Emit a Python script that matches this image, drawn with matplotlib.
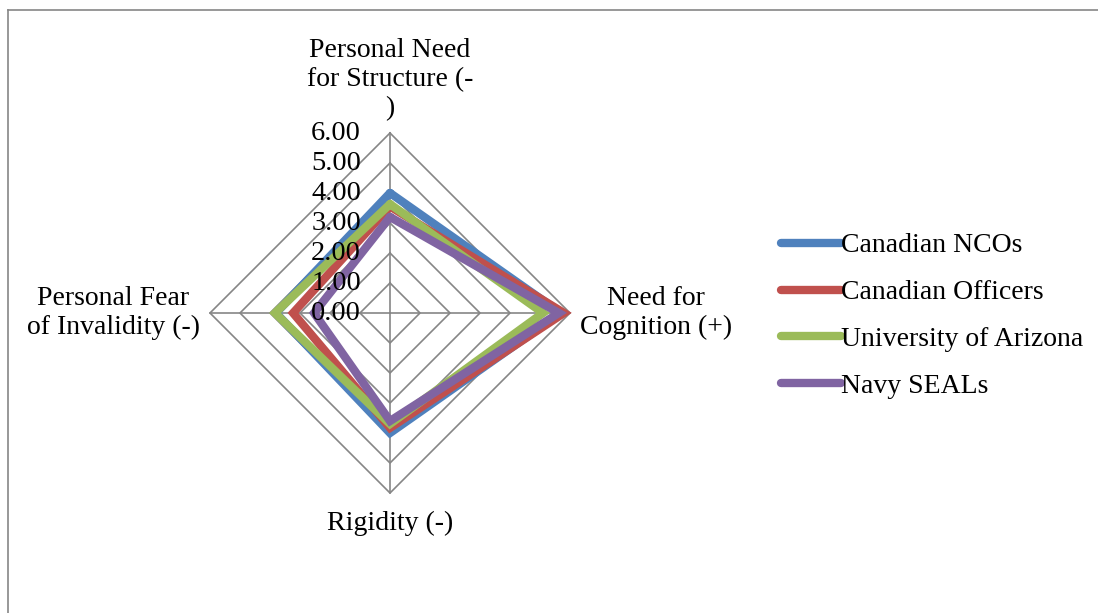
import numpy as np
import matplotlib
matplotlib.use("Agg")
import matplotlib.pyplot as plt
from matplotlib.lines import Line2D

# Radar axes (clockwise from top)
categories = [
    "Personal Need\nfor Structure (-\n)",
    "Need for\nCognition (+)",
    "Rigidity (-)",
    "Personal Fear\nof Invalidity (-)",
]
series_names = ["Canadian NCOs", "Canadian Officers", "University of Arizona", "Navy SEALs"]
canadian_ncos = [4.00, 5.70, 4.00, 3.80]
canadian_officers = [3.55, 5.80, 3.83, 3.23]
university_arizona = [3.63, 5.10, 3.70, 3.83]
navy_seals = [3.20, 5.63, 3.60, 2.53]
tick_values = [0, 1, 2, 3, 4, 5, 6]
tick_labels = ["0.00", "1.00", "2.00", "3.00", "4.00", "5.00", "6.00"]

colors = ["#4F81BD", "#C0504D", "#9BBB59", "#8064A2"]
grid_color = "#868686"
serif = ["Liberation Serif", "DejaVu Serif"]
plt.rcParams["font.family"] = serif

W, H = 1098, 613
fig = plt.figure(figsize=(W / 100, H / 100), dpi=100)

cx, cy, R = 390, 313, 180
ax = fig.add_axes([(cx - R) / W, (H - cy - R) / H, 2 * R / W, 2 * R / H],
                  projection="polar")
ax.set_theta_zero_location("N")
ax.set_theta_direction(-1)
ax.set_ylim(0, 6)
ax.grid(False)
ax.spines["polar"].set_visible(False)
ax.set_xticks([])
ax.set_yticks([])
ax.patch.set_alpha(0)

n = len(categories)
angles = np.linspace(0, 2 * np.pi, n, endpoint=False)
closed = np.concatenate([angles, angles[:1]])

# Diamond grid rings and spokes
for v in tick_values[1:]:
    ax.plot(closed, [v] * (n + 1), color=grid_color, lw=1.2, zorder=1, clip_on=False)
for a in angles:
    ax.plot([a, a], [0, 6], color=grid_color, lw=1.2, zorder=1, clip_on=False)

# Data series
lw = 6.0
all_series = [canadian_ncos, canadian_officers, university_arizona, navy_seals]
for vals, name, col in zip(all_series, series_names, colors):
    ax.plot(closed, list(vals) + [vals[0]], color=col, lw=lw, label=name,
            solid_joinstyle="miter", solid_capstyle="round", zorder=3, clip_on=False)

# Radial tick labels along the top spoke
for v, lab in zip(tick_values, tick_labels):
    ax.annotate(lab, xy=(0, v), xytext=(-29, 0), textcoords="offset pixels",
                ha="right", va="center", fontsize=20.5, zorder=5,
                annotation_clip=False)

# Category labels
fs = 20
ls = 1.2
ax.annotate(categories[0], xy=(angles[0], 6), xytext=(0, 12), textcoords="offset pixels",
            ha="center", va="bottom", multialignment="center", fontsize=fs,
            linespacing=ls, annotation_clip=False)
ax.annotate(categories[1], xy=(angles[1], 6), xytext=(10, 0), textcoords="offset pixels",
            ha="left", va="center", multialignment="center", fontsize=fs,
            linespacing=ls, annotation_clip=False)
ax.annotate(categories[2], xy=(angles[2], 6), xytext=(0, -18), textcoords="offset pixels",
            ha="center", va="top", multialignment="center", fontsize=fs,
            linespacing=ls, annotation_clip=False)
ax.annotate(categories[3], xy=(angles[3], 6), xytext=(-10, 0), textcoords="offset pixels",
            ha="right", va="center", multialignment="center", fontsize=fs,
            linespacing=ls, annotation_clip=False)

# Legend
handles = [Line2D([0], [0], color=c, lw=lw, solid_capstyle="round") for c in colors]
fig.legend(handles, series_names, loc="center left",
           bbox_to_anchor=(781 / W, 1 - 316 / H), frameon=False,
           fontsize=fs, handlelength=2.15, handletextpad=0.0,
           labelspacing=0.77, borderaxespad=0, borderpad=0)

# Chart frame (top and left edges)
fig.add_artist(Line2D([8 / W, 1], [1 - 10 / H, 1 - 10 / H], color=grid_color, lw=1.2,
                      transform=fig.transFigure))
fig.add_artist(Line2D([8 / W, 8 / W], [0, 1 - 10 / H], color=grid_color, lw=1.2,
                      transform=fig.transFigure))

fig.savefig("out.png", dpi=100)
